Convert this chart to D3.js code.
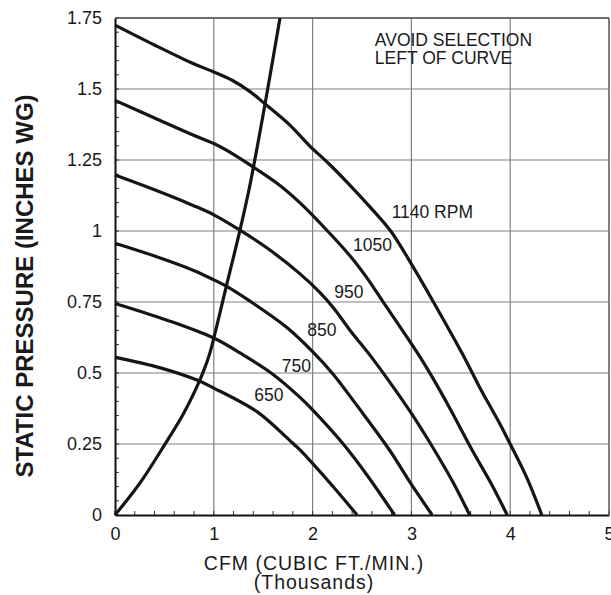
<!DOCTYPE html>
<html><head><meta charset="utf-8">
<script src="https://cdn.jsdelivr.net/npm/d3@7"></script>
<style>
body{margin:0;background:#fff}
svg{display:block}
text{font-family:"Liberation Sans",Arial,Helvetica,sans-serif;fill:#1a1a1a}
</style>
</head><body>
<svg id="chart" width="611" height="595"></svg>
<script>
// ---- data ----
const xTicks = [0, 1, 2, 3, 4, 5];
const xTickLabels = ["0", "1", "2", "3", "4", "5"];
const yTicks = [0, 0.25, 0.5, 0.75, 1, 1.25, 1.5, 1.75];
const yTickLabels = ["0", "0.25", "0.5", "0.75", "1", "1.25", "1.5", "1.75"];

const rpm1140 = [[0,1.725],[0.4,1.655],[0.79,1.59],[1.0,1.56],[1.19,1.53],[1.37,1.49],[1.52,1.447],[1.77,1.373],[1.97,1.30],[2.17,1.235],[2.36,1.168],[2.58,1.085],[2.79,1.0],[3.02,0.872],[3.22,0.752],[3.52,0.565],[3.69,0.45],[3.90,0.318],[4.0,0.25],[4.17,0.13],[4.32,0]];
const rpm1050 = [[0,1.46],[0.4,1.398],[0.79,1.338],[1.0,1.308],[1.2,1.27],[1.4,1.225],[1.64,1.168],[1.87,1.10],[2.07,1.03],[2.38,0.912],[2.55,0.835],[2.71,0.752],[2.88,0.665],[3.09,0.555],[3.22,0.48],[3.39,0.375],[3.62,0.225],[3.80,0.115],[3.97,0]];
const rpm950 = [[0,1.197],[0.4,1.145],[0.79,1.09],[1.0,1.057],[1.265,1.003],[1.54,0.94],[1.87,0.85],[2.07,0.785],[2.21,0.73],[2.38,0.65],[2.58,0.563],[2.75,0.483],[2.99,0.363],[3.22,0.236],[3.42,0.116],[3.59,0]];
const rpm850 = [[0,0.957],[0.4,0.912],[0.79,0.862],[1.0,0.828],[1.13,0.805],[1.37,0.752],[1.74,0.66],[2.0,0.575],[2.21,0.495],[2.45,0.385],[2.78,0.228],[2.99,0.113],[3.21,0]];
const rpm750 = [[0,0.745],[0.52,0.687],[1.0,0.623],[1.3,0.563],[1.6,0.495],[1.87,0.415],[2.0,0.37],[2.31,0.25],[2.55,0.141],[2.83,0]];
const rpm650 = [[0,0.556],[0.46,0.518],[0.83,0.475],[1.0,0.447],[1.44,0.363],[1.77,0.262],[1.87,0.23],[1.97,0.193],[2.22,0.095],[2.45,0]];
const systemCurve = [[0,0],[0.15,0.065],[0.287,0.13],[0.489,0.24],[0.69,0.355],[0.827,0.45],[0.9,0.51],[0.96,0.57],[1.03,0.665],[1.13,0.81],[1.265,1.003],[1.366,1.162],[1.518,1.446],[1.67,1.75]];

const curveNames = ["1140 RPM", "1050", "950", "850", "750", "650"];
const curveLabelAnchors = [[2.80,1.046],[2.41,0.931],[2.22,0.763],[1.946,0.631],[1.687,0.502],[1.41,0.402]];
const noteLines = ["AVOID SELECTION", "LEFT OF CURVE"];
const noteAnchors = [[2.63,1.651],[2.63,1.588]];

const xTitle = ["CFM (CUBIC FT./MIN.)", "(Thousands)"];
const yTitle = "STATIC PRESSURE (INCHES WG)";

// ---- drawing ----
const svg = d3.select("#chart");
const x = d3.scaleLinear().domain([0, 5]).range([115, 609]);
const y = d3.scaleLinear().domain([0, 1.75]).range([515, 18]);

// grid
const grid = svg.append("g");
grid.selectAll("line.v").data(xTicks.slice(1)).join("line")
  .attr("x1", d => x(d)).attr("x2", d => x(d))
  .attr("y1", y(0)).attr("y2", y(1.75))
  .attr("stroke", "#808080").attr("stroke-width", 1.2);
grid.selectAll("line.h").data(yTicks.slice(1)).join("line")
  .attr("x1", x(0)).attr("x2", x(5))
  .attr("y1", d => y(d)).attr("y2", d => y(d))
  .attr("stroke", "#808080").attr("stroke-width", 1.2);

// minor ticks (inside)
const yMinor = d3.range(0, 1.75001, 0.05);
const xMinor = d3.range(0, 5.0001, 0.2);
svg.append("g").selectAll("line").data(yMinor).join("line")
  .attr("x1", x(0)).attr("x2", x(0) + 4)
  .attr("y1", d => y(d)).attr("y2", d => y(d))
  .attr("stroke", "#333").attr("stroke-width", 1);
svg.append("g").selectAll("line").data(xMinor).join("line")
  .attr("x1", d => x(d)).attr("x2", d => x(d))
  .attr("y1", y(0)).attr("y2", y(0) - 4)
  .attr("stroke", "#333").attr("stroke-width", 1);

// axes
const xAxis = d3.axisBottom(x).tickValues(xTicks).tickSize(0).tickPadding(12)
  .tickFormat((d, i) => xTickLabels[i]);
const gx = svg.append("g").attr("transform", `translate(0,${y(0)})`).call(xAxis);
gx.select(".domain").attr("stroke", "#111").attr("stroke-width", 2);
gx.selectAll("text").attr("font-size", 18).attr("fill", "#1a1a1a")
  .attr("font-family", "Liberation Sans, Arial, sans-serif");

const yAxis = d3.axisLeft(y).tickValues(yTicks).tickSize(0).tickPadding(13)
  .tickFormat((d, i) => yTickLabels[i]);
const gy = svg.append("g").attr("transform", `translate(${x(0)},0)`).call(yAxis);
gy.select(".domain").attr("stroke", "#111").attr("stroke-width", 2);
gy.selectAll("text").attr("font-size", 18).attr("fill", "#1a1a1a")
  .attr("font-family", "Liberation Sans, Arial, sans-serif");

// top & right border
svg.append("line").attr("x1", x(0)).attr("x2", x(5)).attr("y1", y(1.75)).attr("y2", y(1.75))
  .attr("stroke", "#555").attr("stroke-width", 1.3);
svg.append("line").attr("x1", x(5)).attr("x2", x(5)).attr("y1", y(0)).attr("y2", y(1.75))
  .attr("stroke", "#666").attr("stroke-width", 1.3);

// curves
const line = d3.line().x(d => x(d[0])).y(d => y(d[1])).curve(d3.curveCatmullRom.alpha(0.5));
[rpm1140, rpm1050, rpm950, rpm850, rpm750, rpm650, systemCurve].forEach(s => {
  svg.append("path").attr("d", line(s)).attr("fill", "none")
    .attr("stroke", "#151515").attr("stroke-width", 3.2)
    .attr("stroke-linejoin", "round").attr("stroke-linecap", "butt");
});

// curve labels
svg.append("g").selectAll("text").data(curveNames).join("text")
  .attr("x", (d, i) => x(curveLabelAnchors[i][0]))
  .attr("y", (d, i) => y(curveLabelAnchors[i][1]))
  .attr("font-size", 17.5).text(d => d);

// note
svg.append("g").selectAll("text").data(noteLines).join("text")
  .attr("x", (d, i) => x(noteAnchors[i][0]))
  .attr("y", (d, i) => y(noteAnchors[i][1]))
  .attr("font-size", 17.5).text(d => d);

// axis titles
svg.append("text").attr("x", 314).attr("y", 570).attr("text-anchor", "middle")
  .attr("font-size", 19.5).attr("letter-spacing", 1).text(xTitle[0]);
svg.append("text").attr("x", 314).attr("y", 589).attr("text-anchor", "middle")
  .attr("font-size", 19.5).attr("letter-spacing", 1).text(xTitle[1]);
svg.append("text").attr("transform", "translate(33,286) rotate(-90)")
  .attr("text-anchor", "middle").attr("font-size", 24).attr("font-weight", "bold")
  .text(yTitle);
</script>
</body></html>
